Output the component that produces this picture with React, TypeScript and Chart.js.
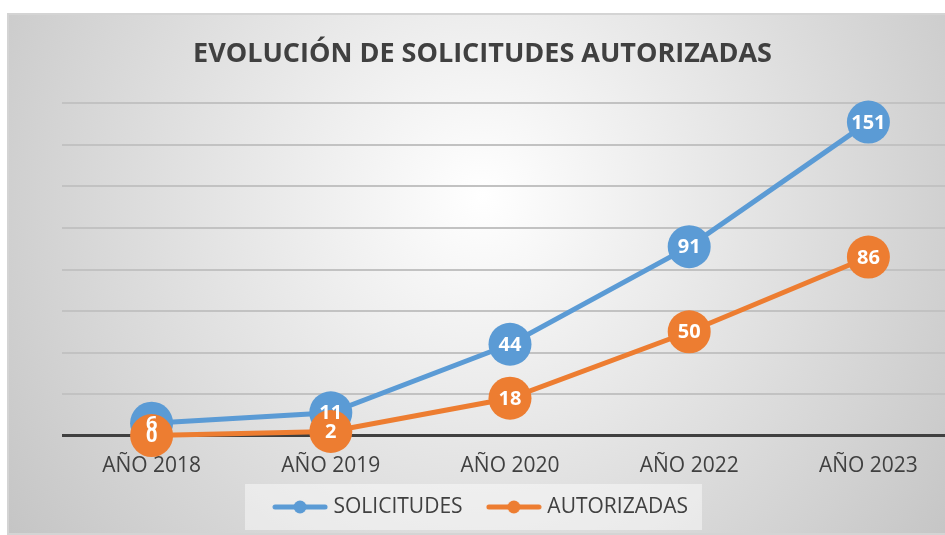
import { useEffect, useRef } from "react";
import { Chart, registerables } from "chart.js";

Chart.register(...registerables);

const chartTitle = "EVOLUCIÓN DE SOLICITUDES AUTORIZADAS";
const categories = ["AÑO 2018", "AÑO 2019", "AÑO 2020", "AÑO 2022", "AÑO 2023"];
const seriesNames = ["SOLICITUDES", "AUTORIZADAS"];
const solicitudes = [6, 11, 44, 91, 151];
const autorizadas = [0, 2, 18, 50, 86];
const yMin = 0;
const yMax = 160;
const yStep = 20;

const BLUE = "#5B9BD5";
const ORANGE = "#ED7D31";
const FONT = "'Open Sans', 'DejaVu Sans', sans-serif";

function legendSymbol(color: string) {
  const c = document.createElement("canvas");
  c.width = 56;
  c.height = 14;
  const ctx = c.getContext("2d")!;
  ctx.strokeStyle = color;
  ctx.lineWidth = 5;
  ctx.lineCap = "round";
  ctx.beginPath();
  ctx.moveTo(3, 7);
  ctx.lineTo(53, 7);
  ctx.stroke();
  ctx.fillStyle = color;
  ctx.beginPath();
  ctx.arc(28, 7, 6.5, 0, Math.PI * 2);
  ctx.fill();
  return c;
}

const backgroundPlugin = {
  id: "bgPlugin",
  beforeDraw(chart: any) {
    const { ctx, width, height } = chart;
    ctx.save();
    const g = ctx.createRadialGradient(width * 0.5, height * 0.35, 0, width * 0.5, height * 0.35, width * 0.62);
    g.addColorStop(0, "#ffffff");
    g.addColorStop(1, "#c4c4c4");
    ctx.fillStyle = g;
    ctx.fillRect(0, 0, width, height);
    ctx.strokeStyle = "#d4d4d4";
    ctx.lineWidth = 2;
    ctx.strokeRect(1, 1, width - 2, height - 2);
    const lg = chart.legend;
    if (lg && lg.legendHitBoxes && lg.legendHitBoxes.length) {
      const boxes = lg.legendHitBoxes;
      const first = boxes[0];
      const last = boxes[boxes.length - 1];
      const cy = first.top + first.height / 2;
      const left = first.left - 32;
      const right = last.left + last.width + 14;
      ctx.fillStyle = "rgba(255,255,255,0.45)";
      ctx.fillRect(left, cy - 23, right - left, 46);
    }
    ctx.restore();
  },
};

const labelsPlugin = {
  id: "pointLabels",
  afterDatasetsDraw(chart: any) {
    const { ctx } = chart;
    ctx.save();
    ctx.fillStyle = "#ffffff";
    ctx.font = `bold 20px ${FONT}`;
    ctx.textAlign = "center";
    ctx.textBaseline = "middle";
    chart.data.datasets.forEach((ds: any, di: number) => {
      const meta = chart.getDatasetMeta(di);
      meta.data.forEach((pt: any, i: number) => {
        ctx.fillText(String(ds.data[i]), pt.x, pt.y + 1);
      });
    });
    ctx.restore();
  },
};

export default function App() {
  const ref = useRef<HTMLCanvasElement | null>(null);
  useEffect(() => {
    if (!ref.current) return;
    const chart = new Chart(ref.current, {
      type: "line",
      data: {
        labels: categories,
        datasets: [
          {
            label: seriesNames[0],
            data: solicitudes,
            borderColor: BLUE,
            backgroundColor: BLUE,
            borderWidth: 5,
            pointRadius: 21.5,
            pointBorderWidth: 0,
            pointBackgroundColor: BLUE,
            pointStyle: "circle",
            tension: 0,
            clip: false,
            order: 1,
          },
          {
            label: seriesNames[1],
            data: autorizadas,
            borderColor: ORANGE,
            backgroundColor: ORANGE,
            borderWidth: 5,
            pointRadius: 21.5,
            pointBorderWidth: 0,
            pointBackgroundColor: ORANGE,
            pointStyle: "circle",
            tension: 0,
            clip: false,
            order: 0,
          },
        ],
      },
      options: {
        animation: false,
        responsive: false,
        layout: { autoPadding: false, padding: { left: 0, right: 0, top: 0, bottom: 7.5 } },
        plugins: {
          title: {
            display: true,
            text: chartTitle,
            color: "#404040",
            font: { family: FONT, size: 27, weight: "bold" },
            padding: { top: 25, bottom: 33 },
          },
          legend: {
            display: true,
            position: "bottom",
            labels: {
              usePointStyle: true,
              pointStyleWidth: 46,
              color: "#404040",
              font: { family: FONT, size: 21 },
              padding: 1,
              sort: (a: any, b: any) => a.datasetIndex - b.datasetIndex,
              generateLabels: (chart: any) =>
                chart.data.datasets.map((ds: any, i: number) => ({
                  text: i === 0 ? ds.label + "     " : ds.label,
                  datasetIndex: i,
                  pointStyle: legendSymbol(i === 0 ? BLUE : ORANGE),
                  fillStyle: ds.borderColor,
                  strokeStyle: ds.borderColor,
                  lineWidth: 0,
                  fontColor: "#404040",
                  hidden: false,
                })),
            },
          },
          tooltip: { enabled: false },
        },
        scales: {
          x: {
            offset: true,
            grid: { display: false, drawTicks: false },
            border: { display: false },
            ticks: { color: "#404040", font: { family: FONT, size: 21, lineHeight: 0.9 }, padding: 20.5 },
            afterFit: (s: any) => {
              s.paddingLeft = 0;
              s.paddingRight = 0;
            },
          },
          y: {
            min: yMin,
            max: yMax,
            ticks: { stepSize: yStep, display: false },
            border: { display: false },
            grid: {
              drawTicks: false,
              color: (c: any) => (c.tick && c.tick.value === 0 ? "#404040" : "#c2c2c2"),
              lineWidth: (c: any) => (c.tick && c.tick.value === 0 ? 3 : 2),
            },
            afterFit: (s: any) => {
              s.width = 55;
            },
          },
        },
      },
      plugins: [backgroundPlugin, labelsPlugin],
    });
    return () => chart.destroy();
  }, []);
  return (
    <div style={{ position: "absolute", left: 7, top: 13, width: 938, height: 522, overflow: "hidden" }}>
      <canvas ref={ref} width={951} height={522} style={{ width: 951, height: 522, display: "block" }} />
    </div>
  );
}
